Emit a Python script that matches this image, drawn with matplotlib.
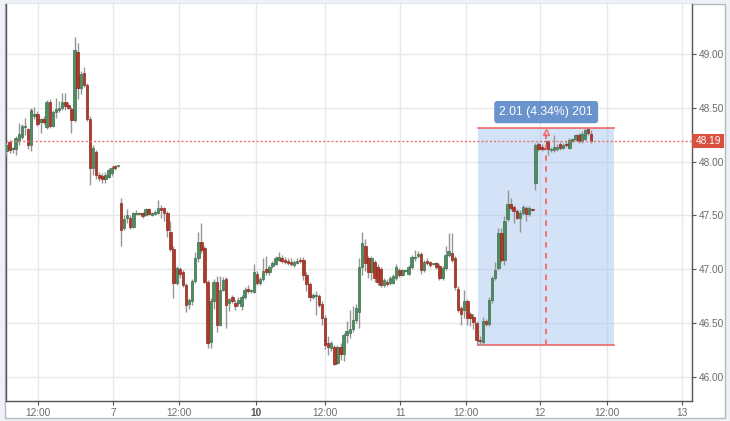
import numpy as np
import matplotlib
matplotlib.use("Agg")
import matplotlib.pyplot as plt
from matplotlib.patches import Rectangle
import matplotlib.transforms as mtransforms

# ---------------- data ----------------
opens = [
    # segment A
    48.10, 48.18, 48.12, 48.12, 48.19, 48.23, 48.32, 48.30, 48.15, 48.42,
    48.44, 48.37, 48.40, 48.32, 48.55, 48.33, 48.46, 48.48, 48.50, 48.55,
    48.53, 48.49, 48.39, 49.02, 48.68, 48.82, 48.71, 48.40, 47.94, 48.09,
    47.88, 47.87, 47.84, 47.86, 47.89, 47.96, 47.96,
    # segment B
    47.62, 47.38, 47.48, 47.48, 47.39, 47.51, 47.51, 47.52, 47.50, 47.56,
    47.50, 47.51, 47.52, 47.57, 47.57, 47.52, 47.35, 47.19, 46.87, 47.00,
    46.97, 46.85, 46.68, 46.70, 46.89, 47.10, 47.25, 47.20, 46.88, 46.32,
    46.70, 46.88, 46.48, 46.81, 46.91, 46.69, 46.74, 46.69,
    # segment C
    46.69, 46.66, 46.74, 46.82, 46.80, 46.79, 46.96, 46.87, 46.91, 47.00,
    46.97, 47.03, 47.05, 47.09, 47.10, 47.09, 47.08, 47.07, 47.04, 47.06,
    47.09, 47.09, 46.95, 46.86, 46.74, 46.75, 46.75, 46.68, 46.55, 46.31,
    46.27, 46.28, 46.13, 46.28, 46.21, 46.39, 46.41, 46.44,
    # segment D
    46.53, 46.60,
    # segment E
    47.02, 47.22, 47.10, 46.97, 47.07, 47.02, 47.00, 46.85, 46.88, 46.87,
    46.87, 46.92, 46.99, 46.95, 46.98, 46.96, 47.02, 47.10, 47.12, 47.14,
    46.99, 47.08, 47.07, 47.05, 47.06, 47.03, 46.92, 47.01, 47.13, 47.15,
    47.10, 46.82, 46.64, 46.62, 46.70, 46.58, 46.56, 46.50,
    # segment F
    46.34, 46.32, 46.52, 46.49, 46.71, 46.92, 47.01, 47.34, 47.09, 47.47,
    47.61, 47.58, 47.54, 47.48, 47.52, 47.57, 47.51, 47.56,
    # segment G
    47.80, 48.16, 48.14, 48.13, 48.19, 48.11, 48.11, 48.12, 48.16, 48.13,
    48.16, 48.13, 48.19, 48.21, 48.25, 48.19, 48.21, 48.30, 48.26,
]
highs = [
    48.17, 48.20, 48.14, 48.24, 48.36, 48.35, 48.41, 48.31, 48.50, 48.51,
    48.47, 48.41, 48.42, 48.57, 48.58, 48.48, 48.59, 48.56, 48.64, 48.64,
    48.55, 48.51, 49.16, 49.10, 48.84, 48.88, 48.73, 48.42, 48.15, 48.11,
    47.90, 47.89, 47.90, 47.94, 47.96, 47.97, 47.96,
    47.66, 47.50, 47.56, 47.50, 47.53, 47.55, 47.53, 47.53, 47.57, 47.57,
    47.53, 47.55, 47.64, 47.60, 47.58, 47.54, 47.45, 47.22, 47.03, 47.02,
    46.99, 46.87, 46.73, 46.91, 47.16, 47.35, 47.43, 47.22, 46.90, 46.73,
    46.91, 46.94, 46.94, 46.93, 46.93, 46.73, 46.76, 46.71,
    46.74, 46.76, 46.83, 46.85, 46.82, 47.05, 46.98, 46.93, 47.10, 47.12,
    47.04, 47.08, 47.12, 47.16, 47.13, 47.11, 47.10, 47.10, 47.09, 47.10,
    47.11, 47.11, 46.97, 46.88, 46.78, 46.80, 46.77, 46.70, 46.57, 46.38,
    46.33, 46.30, 46.30, 46.31, 46.41, 46.52, 46.62, 46.66,
    46.68, 47.10,
    47.35, 47.28, 47.12, 47.12, 47.09, 47.05, 47.02, 46.92, 46.91, 46.94,
    46.96, 47.05, 47.01, 47.00, 46.99, 47.04, 47.13, 47.18, 47.17, 47.16,
    47.09, 47.10, 47.08, 47.06, 47.07, 47.05, 47.03, 47.22, 47.34, 47.34,
    47.12, 46.84, 46.66, 46.81, 46.72, 46.60, 46.58, 46.52,
    46.38, 46.56, 46.54, 46.74, 46.94, 47.07, 47.38, 47.38, 47.49, 47.74,
    47.66, 47.60, 47.56, 47.55, 47.60, 47.59, 47.59, 47.57,
    48.17, 48.18, 48.16, 48.14, 48.20, 48.14, 48.25, 48.16, 48.18, 48.17,
    48.19, 48.22, 48.22, 48.26, 48.27, 48.28, 48.31, 48.31, 48.29,
]
lows = [
    48.05, 48.08, 48.08, 48.06, 48.15, 48.21, 48.25, 48.12, 48.10, 48.40,
    48.33, 48.27, 48.35, 48.30, 48.31, 48.32, 48.41, 48.46, 48.48, 48.48,
    48.49, 48.27, 48.37, 48.58, 48.63, 48.69, 48.38, 47.78, 47.88, 47.84,
    47.82, 47.80, 47.80, 47.85, 47.87, 47.92, 47.95,
    47.22, 47.36, 47.43, 47.37, 47.38, 47.50, 47.50, 47.48, 47.49, 47.50,
    47.49, 47.50, 47.51, 47.48, 47.45, 47.30, 47.17, 46.73, 46.85, 46.92,
    46.83, 46.60, 46.63, 46.67, 46.87, 47.07, 47.15, 46.87, 46.27, 46.27,
    46.63, 46.42, 46.47, 46.80, 46.45, 46.61, 46.69, 46.62,
    46.66, 46.62, 46.72, 46.78, 46.78, 46.78, 46.85, 46.85, 46.89, 46.95,
    46.95, 47.01, 47.04, 47.08, 47.06, 47.05, 47.04, 47.03, 47.02, 47.05,
    47.06, 46.90, 46.80, 46.70, 46.72, 46.57, 46.65, 46.48, 46.26, 46.20,
    46.24, 46.11, 46.12, 46.16, 46.15, 46.31, 46.36, 46.42,
    46.50, 46.45,
    46.95, 46.98, 46.92, 46.90, 46.88, 46.85, 46.83, 46.83, 46.84, 46.85,
    46.86, 46.90, 46.93, 46.94, 46.97, 46.95, 47.00, 47.08, 47.10, 46.96,
    46.97, 47.04, 47.02, 47.04, 47.00, 46.90, 46.90, 46.99, 47.11, 47.07,
    46.81, 46.60, 46.48, 46.55, 46.48, 46.47, 46.44, 46.30,
    46.30, 46.30, 46.47, 46.47, 46.69, 46.90, 46.99, 47.07, 47.04, 47.45,
    47.55, 47.43, 47.47, 47.35, 47.50, 47.45, 47.49, 47.54,
    47.74, 48.10, 48.10, 48.11, 48.06, 48.09, 48.09, 48.10, 48.11, 48.12,
    48.14, 48.12, 48.18, 48.19, 48.17, 48.17, 48.20, 48.25, 48.17,
]
closes = [
    48.15, 48.11, 48.13, 48.22, 48.26, 48.33, 48.33, 48.15, 48.48, 48.44,
    48.35, 48.40, 48.37, 48.55, 48.33, 48.46, 48.49, 48.50, 48.55, 48.52,
    48.50, 48.39, 49.04, 48.68, 48.81, 48.71, 48.40, 47.94, 48.13, 47.88,
    47.85, 47.84, 47.88, 47.92, 47.94, 47.94, 47.96,
    47.36, 47.47, 47.50, 47.39, 47.52, 47.51, 47.51, 47.49, 47.56, 47.51,
    47.52, 47.53, 47.57, 47.55, 47.52, 47.36, 47.19, 46.87, 47.01, 46.96,
    46.85, 46.67, 46.71, 46.89, 47.10, 47.25, 47.18, 46.88, 46.31, 46.70,
    46.88, 46.48, 46.81, 46.90, 46.67, 46.72, 46.70, 46.66,
    46.71, 46.74, 46.81, 46.80, 46.80, 46.97, 46.87, 46.91, 46.98, 46.97,
    47.02, 47.06, 47.10, 47.11, 47.08, 47.07, 47.06, 47.05, 47.07, 47.08,
    47.08, 46.95, 46.86, 46.74, 46.76, 46.75, 46.67, 46.55, 46.30, 46.28,
    46.31, 46.12, 46.28, 46.21, 46.39, 46.43, 46.44, 46.53,
    46.64, 47.02,
    47.24, 47.06, 46.97, 47.10, 46.92, 46.88, 46.85, 46.90, 46.86, 46.92,
    46.94, 47.02, 46.95, 46.99, 46.98, 47.02, 47.11, 47.11, 47.14, 46.99,
    47.07, 47.06, 47.04, 47.05, 47.02, 46.92, 47.01, 47.13, 47.17, 47.09,
    46.83, 46.62, 46.58, 46.70, 46.55, 46.55, 46.51, 46.34,
    46.33, 46.52, 46.49, 46.71, 46.92, 46.99, 47.34, 47.09, 47.45, 47.61,
    47.57, 47.54, 47.48, 47.52, 47.58, 47.51, 47.57, 47.55,
    48.15, 48.12, 48.12, 48.12, 48.12, 48.12, 48.14, 48.14, 48.13, 48.15,
    48.15, 48.20, 48.21, 48.25, 48.19, 48.26, 48.29, 48.27, 48.19,
]

x_tick_labels = ["12:00", "7", "12:00", "10", "12:00", "11", "12:00", "12", "12:00", "13"]
x_tick_pos = [10.3, 34.6, 55.9, 80.8, 103.1, 127.3, 148.6, 172.5, 194.2, 218.3]
y_ticks = [46.00, 46.50, 47.00, 47.50, 48.00, 48.50, 49.00]

last_price = 48.19
measure_low = 46.30
measure_high = 48.31
measure_start = 152.5
measure_end = 196.4
measure_mid = 174.5
measure_text = "2.01 (4.34%) 201"

# ---------------- figure ----------------
W, H = 730, 421
fig = plt.figure(figsize=(W / 100, H / 100), dpi=100)
fig.patch.set_facecolor("#eef2f6")

# outer white panel (behind the axes)
panel = Rectangle((5 / W, 3 / H), 720 / W, 414 / H, transform=fig.transFigure,
                  facecolor="white", edgecolor="#b5b9be", lw=1.0, zorder=-10)
fig.patches.append(panel)

ax = fig.add_axes([5.5 / W, 20 / H, (692 - 5.5) / W, (401 - 4) / H])
ax.set_zorder(1)
ax.set_facecolor("white")

o = np.array(opens); h = np.array(highs); l = np.array(lows); c = np.array(closes)
x = np.arange(len(o))
up = c >= o

ax.set_xlim(-0.32, 221.65)
ax.set_ylim(45.775, 49.465)

# grid
for xp in x_tick_pos:
    ax.axvline(xp, color="#e8e8e8", lw=1, zorder=0)
for yp in y_ticks:
    ax.axhline(yp, color="#e8e8e8", lw=1, zorder=0)

# measurement box
ax.add_patch(Rectangle((measure_start, measure_low), measure_end - measure_start,
                       measure_high - measure_low, facecolor="#a9c6f0", alpha=0.5,
                       edgecolor="none", zorder=1))
ax.plot([measure_start, measure_end], [measure_high, measure_high], color="#ef5b5b", lw=1.1, zorder=2)
ax.plot([measure_start, measure_end], [measure_low, measure_low], color="#ef5b5b", lw=1.1, zorder=2)

# candles
ax.vlines(x, l, h, color="#959595", lw=1.0, zorder=3)
body = np.maximum(np.abs(c - o), 0.008)
bottom = np.minimum(o, c)
ax.bar(x[up], body[up], bottom=bottom[up], width=0.82, color="#4e8d61",
       edgecolor="#3c6f4c", lw=0.5, zorder=4)
ax.bar(x[~up], body[~up], bottom=bottom[~up], width=0.82, color="#b1392a",
       edgecolor="#8c2b1f", lw=0.5, zorder=4)

# dashed vertical measure line with arrow
ax.plot([measure_mid, measure_mid], [measure_low, measure_high - 0.03], color="#f06a6a",
        lw=1.3, ls=(0, (3, 3)), zorder=5)
ax.plot([measure_mid], [measure_high - 0.035], marker="^", ms=4, color="#f06a6a",
        markerfacecolor="none", mew=1.0, zorder=5)

# measurement label
ax.text(measure_mid, 48.46, measure_text, ha="center", va="center", color="white",
        fontsize=8.8, family="Liberation Sans", zorder=6,
        bbox=dict(boxstyle="round,pad=0.42,rounding_size=0.25", fc="#6a92cc", ec="none"))

# last price dotted line
ax.axhline(last_price, color="#e57373", lw=1.0, ls=(0, (1.5, 1.5)), zorder=5)

# spines
for s in ["left", "right", "bottom"]:
    ax.spines[s].set_color("#555555")
    ax.spines[s].set_linewidth(1.0)
ax.spines["top"].set_visible(False)

# ticks
ax.yaxis.tick_right()
ax.set_yticks(y_ticks)
ax.set_yticklabels([f"{v:.2f}" for v in y_ticks])
ax.set_xticks(x_tick_pos)
ax.set_xticklabels(x_tick_labels)
ax.tick_params(axis="y", direction="out", length=3, width=0.8, color="#555555",
               labelsize=7.3, labelcolor="#6b6b6b", pad=2)
ax.tick_params(axis="x", direction="out", length=3, width=0.8, color="#555555",
               labelsize=7.3, labelcolor="#6b6b6b", pad=2)
for lab in ax.get_yticklabels() + ax.get_xticklabels():
    lab.set_family("Liberation Sans")
for lab in ax.get_xticklabels():
    if lab.get_text() == "10":
        lab.set_fontweight("bold")
        lab.set_color("#555555")

# last price tag on the axis
trans = mtransforms.blended_transform_factory(ax.transAxes, ax.transData)
axw_px = 692 - 5.5
ax.add_patch(Rectangle((1.0, last_price - 0.065), 32 / axw_px, 0.13, transform=trans,
                       facecolor="#d9503f", edgecolor="none", clip_on=False, zorder=7))
ax.text(1.0 + 16 / axw_px, last_price, f"{last_price:.2f}", transform=trans, ha="center",
        va="center", color="white", fontsize=7.3, family="Liberation Sans", zorder=8,
        clip_on=False)

fig.savefig("out.png", dpi=100, facecolor=fig.get_facecolor())
